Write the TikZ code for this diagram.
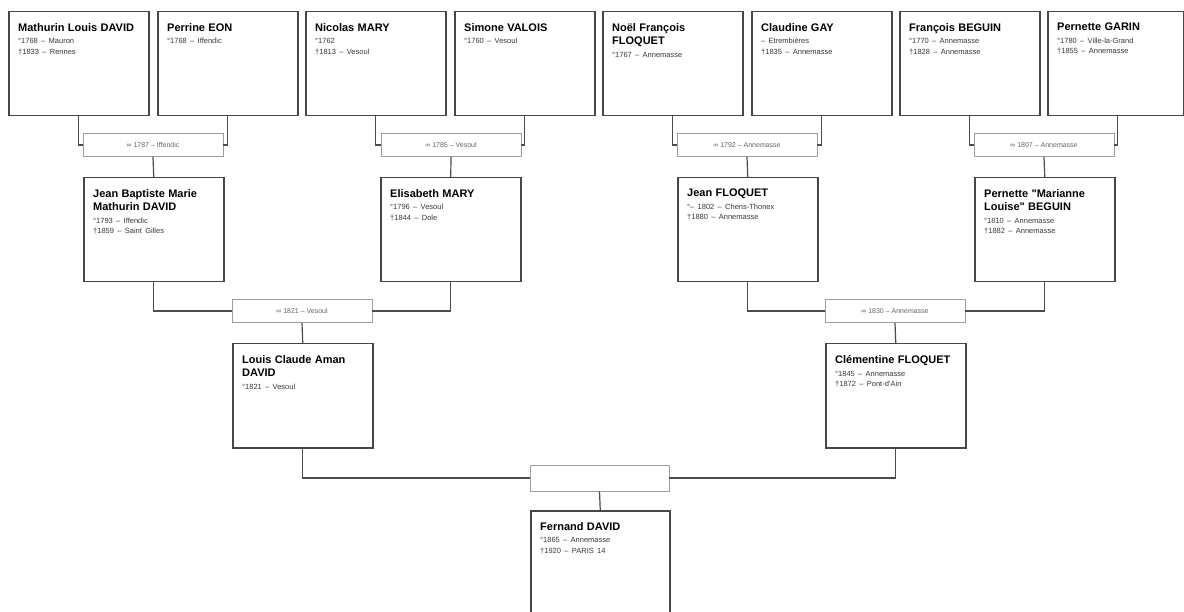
\documentclass[tikz,border=0pt]{standalone}
\usepackage{fontspec}
\setmainfont{Liberation Sans}
\newfontfamily\rawsans[Ligatures=TeXOff]{Liberation Sans}
\newcommand\sq{{\rawsans\symbol{34}}}
\tikzset{
  x=1pt, y=-1pt,
  pbox/.style={draw=black!72, line width=1.5pt, minimum width=140pt, minimum height=104pt, anchor=north west, inner sep=0pt, fill=white},
  ptext/.style={anchor=north west, align=left, text width=128pt, inner sep=0pt},
  mbox/.style={draw=black!38, line width=0.8pt, minimum width=140pt, minimum height=23pt, inner sep=0pt, fill=white, font=\fontsize{7}{8}\selectfont, text=black!60},
  link/.style={draw=black!70, line width=1.2pt}
}
\newcommand\personnode[6]{% name, x, y, width, title, details
  \node[pbox, minimum width=#4] (#1) at (#2,#3) {};
  \node[ptext] (#1t) at ([shift={(10,12)}]#1.north west)
    {\fontsize{11}{13.5}\selectfont\bfseries #5\par\vspace{2.5pt}%
     \fontsize{7.5}{10.3}\selectfont\mdseries\color{black!78}#6\par};
}
\begin{document}
\begin{tikzpicture}
\useasboundingbox[fill=white] (0,0) rectangle (1184,612);
% generation 1
\personnode{p1}{8}{11}{140pt}{Mathurin Louis DAVID}{°1768 – Mauron\\†1833 – Rennes}
\personnode{p2}{157}{11}{140pt}{Perrine EON}{°1768 – Iffendic}
\personnode{p3}{305}{11}{140pt}{Nicolas MARY}{°1762\\†1813 – Vesoul}
\personnode{p4}{454}{11}{140pt}{Simone VALOIS}{°1760 – Vesoul}
\personnode{p5}{602}{11}{140pt}{Noël François\\FLOQUET}{°1767 – Annemasse}
\personnode{p6}{751}{11}{140pt}{Claudine GAY}{– Etrembières\\†1835 – Annemasse}
\personnode{p7}{899}{11}{140pt}{François BEGUIN}{°1770 – Annemasse\\†1828 – Annemasse}
\personnode{p8}{1047}{11}{136pt}{Pernette GARIN}{°1780 – Ville-la-Grand\\†1855 – Annemasse}
% marriages 1
\node[mbox] (m1) at (153,145) {∞ 1787 – Iffendic};
\node[mbox] (m2) at (451,145) {∞ 1785 – Vesoul};
\node[mbox] (m3) at (747,145) {∞ 1792 – Annemasse};
\node[mbox] (m4) at (1044,145) {∞ 1807 – Annemasse};
% generation 2
\personnode{c1}{83}{177}{140pt}{Jean Baptiste Marie\\Mathurin DAVID}{°1793 – Iffendic\\†1859 – Saint Gilles}
\personnode{c2}{380}{177}{140pt}{Elisabeth MARY}{°1796 – Vesoul\\†1844 – Dole}
\personnode{c3}{677}{177}{140pt}{Jean FLOQUET}{°– 1802 – Chens-Thonex\\†1880 – Annemasse}
\personnode{c4}{974}{177}{140pt}{Pernette \sq Marianne\\Louise\sq{} BEGUIN}{°1810 – Annemasse\\†1882 – Annemasse}
% marriages 2
\node[mbox] (m5) at (302,311) {∞ 1821 – Vesoul};
\node[mbox] (m6) at (895,311) {∞ 1830 – Annemasse};
% generation 3
\personnode{d1}{232}{343}{140pt}{Louis Claude Aman\\DAVID}{°1821 – Vesoul}
\personnode{d2}{825}{343}{140pt}{Clémentine FLOQUET}{°1845 – Annemasse\\†1872 – Pont-d'Ain}
% marriage 3
\node[mbox, minimum width=139pt, minimum height=26pt] (m7) at (599.5,478) {};
% generation 4
\personnode{e1}{530}{510}{139pt}{Fernand DAVID}{°1865 – Annemasse\\†1920 – PARIS 14}
% connectors
\draw[link] (p1.south) |- (m1.west);
\draw[link] (p2.south) |- (m1.east);
\draw[link] (p3.south) |- (m2.west);
\draw[link] (p4.south) |- (m2.east);
\draw[link] (p5.south) |- (m3.west);
\draw[link] (p6.south) |- (m3.east);
\draw[link] (p7.south) |- (m4.west);
\draw[link] ([xshift=2pt]p8.south) |- (m4.east);
\draw[link] (m1.south) -- (c1.north);
\draw[link] (m2.south) -- (c2.north);
\draw[link] (m3.south) -- (c3.north);
\draw[link] (m4.south) -- (c4.north);
\draw[link] (c1.south) |- (m5.west);
\draw[link] (c2.south) |- (m5.east);
\draw[link] (c3.south) |- (m6.west);
\draw[link] (c4.south) |- (m6.east);
\draw[link] (m5.south) -- (d1.north);
\draw[link] (m6.south) -- (d2.north);
\draw[link] (d1.south) |- (m7.west);
\draw[link] (d2.south) |- (m7.east);
\draw[link] (m7.south) -- (e1.north);
\end{tikzpicture}
\end{document}
